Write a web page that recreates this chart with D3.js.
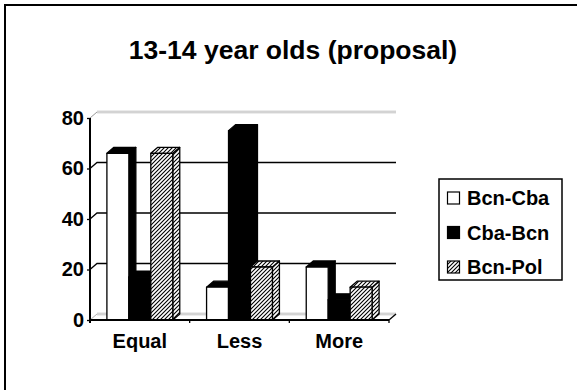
<!DOCTYPE html>
<html><head><meta charset="utf-8">
<script src="https://cdn.jsdelivr.net/npm/d3@7"></script>
<style>html,body{margin:0;padding:0;background:#fff;}svg{display:block;font-family:"Liberation Sans",Arial,sans-serif;font-weight:bold;}</style>
</head><body>
<svg id="c" width="577" height="390"></svg>
<script>
const categories = ["Equal", "Less", "More"];
const seriesNames = ["Bcn-Cba", "Cba-Bcn", "Bcn-Pol"];
const bcnCba = [66, 13, 21];
const cbaBcn = [17, 75, 8];
const bcnPol = [66, 21, 13];
const yTicks = [0, 20, 40, 60, 80];
const title = "13-14 year olds (proposal)";

(function () {
const seriesValues = [bcnCba, cbaBcn, bcnPol];
const svg = d3.select("#c");
const defs = svg.append("defs");
const pat = defs.append("pattern").attr("id","hatch").attr("patternUnits","userSpaceOnUse")
  .attr("width",4).attr("height",4);
pat.append("rect").attr("width",4).attr("height",4).attr("fill","#fff");
pat.append("path").attr("d","M-1,1 l2,-2 M0,4 l4,-4 M3,5 l2,-2").attr("stroke","#000").attr("stroke-width",1.1);

svg.append("rect").attr("x",5).attr("y",5).attr("width",600).attr("height",400)
  .attr("fill","none").attr("stroke","#000").attr("stroke-width",2);

const pLeft = 90, pRight = 389, pBottom = 320, pTop = 118;
const dx = 7, dy = -6;
const x = d3.scaleBand().domain(categories).range([pLeft, pRight]);
const xs = d3.scaleBand().domain(seriesNames).range([0, x.bandwidth()]).paddingOuter(0.77).paddingInner(0);
const y = d3.scaleLinear().domain([0, 80]).range([pBottom, pTop]);

const g = svg.append("g");
yTicks.forEach(t => {
  const yf = y(t);
  const edge = (t === 0 || t === 80);
  if (edge) {
    [-0.8, 0.8].forEach(o => {
      g.append("line").attr("x1", pLeft + dx).attr("x2", pRight + dx)
        .attr("y1", yf + dy + o).attr("y2", yf + dy + o).attr("stroke", "#b0b0b0").attr("stroke-width", 0.8);
    });
    g.append("line").attr("x1", pLeft).attr("y1", yf).attr("x2", pLeft + dx).attr("y2", yf + dy)
      .attr("stroke", t === 0 ? "#b0b0b0" : "#999").attr("stroke-width", 1);
  } else {
    g.append("path").attr("d", `M${pLeft},${yf} L${pLeft+dx},${yf+dy} L${pRight+dx},${yf+dy}`)
      .attr("fill","none").attr("stroke","#000").attr("stroke-width",1.3);
  }
});
g.append("line").attr("x1", pRight).attr("y1", pBottom).attr("x2", pRight + dx).attr("y2", pBottom + dy)
  .attr("stroke","#000").attr("stroke-width",1.3);

const faces = [
  {front:"#fff", top:"#000", side:"#000"},
  {front:"#000", top:"#000", side:"#000"},
  {front:"url(#hatch)", top:"url(#hatch)", side:"url(#hatch)"}
];
categories.forEach((c, ci) => {
  seriesNames.forEach((s, si) => {
    const x0 = x(c) + xs(s), x1 = x0 + xs.bandwidth();
    const yt = y(seriesValues[si][ci]), yb = y(0);
    const f = faces[si];
    const bg = g.append("g").attr("stroke","#000").attr("stroke-width",1.3).attr("stroke-linejoin","round");
    bg.append("path").attr("d",`M${x1},${yb} L${x1+dx},${yb+dy} L${x1+dx},${yt+dy} L${x1},${yt} Z`).attr("fill",f.side);
    bg.append("path").attr("d",`M${x0},${yt} L${x0+dx},${yt+dy} L${x1+dx},${yt+dy} L${x1},${yt} Z`).attr("fill",f.top);
    bg.append("rect").attr("x",x0).attr("y",yt).attr("width",x1-x0).attr("height",yb-yt).attr("fill",f.front);
  });
});

const yAxis = d3.axisLeft(y).tickValues(yTicks).tickSize(3).tickPadding(3);
const ya = svg.append("g").attr("transform",`translate(${pLeft},0)`).call(yAxis);
ya.select(".domain").attr("stroke","#000").attr("stroke-width",2).attr("d",`M0,${pTop}V${pBottom+3}`);
ya.selectAll(".tick line").attr("stroke","#000").attr("stroke-width",1.3);
ya.selectAll(".tick text").attr("font-size",20).attr("font-weight","bold").attr("fill","#000")
  .attr("font-family","Liberation Sans, Arial, sans-serif");

const xa = svg.append("g").attr("transform",`translate(0,${pBottom})`);
xa.append("line").attr("x1",pLeft).attr("x2",pRight).attr("stroke","#000").attr("stroke-width",2);
const tickXs = [pLeft].concat(categories.map(c => x(c) + x.bandwidth()));
xa.selectAll("line.t").data(tickXs).join("line").attr("class","t")
  .attr("x1",d=>d).attr("x2",d=>d).attr("y1",0).attr("y2",3).attr("stroke","#000").attr("stroke-width",1.3);
xa.selectAll("text").data(categories).join("text")
  .attr("x", d => x(d) + x.bandwidth()/2).attr("y", 27.5).attr("text-anchor","middle")
  .attr("font-size",20).text(d => d);

svg.append("text").attr("x",293).attr("y",59).attr("text-anchor","middle").attr("font-size",26.5).text(title);

const lg = svg.append("g");
lg.append("rect").attr("x",439).attr("y",179).attr("width",123).attr("height",101)
  .attr("fill","#fff").attr("stroke","#000").attr("stroke-width",1.5);
const rowY = d3.scalePoint().domain(seriesNames).range([198, 267]);
seriesNames.forEach((s, si) => {
  lg.append("rect").attr("x",447.5).attr("y",rowY(s)-6).attr("width",12).attr("height",12)
    .attr("fill", faces[si].front).attr("stroke","#000").attr("stroke-width",1.2);
  lg.append("text").attr("x",467).attr("y",rowY(s)).attr("dy","0.36em").attr("font-size",20).text(s);
});
})();
</script>
</body></html>
